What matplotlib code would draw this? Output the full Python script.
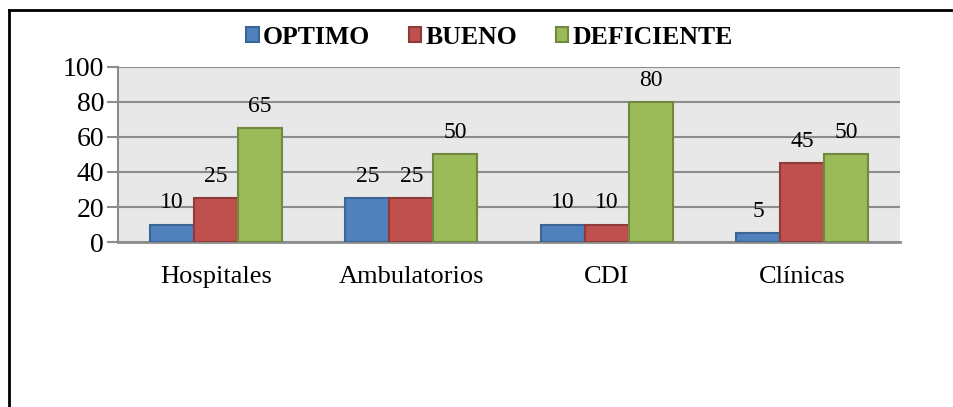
import numpy as np
import matplotlib.pyplot as plt
from matplotlib.lines import Line2D

categories = ['Hospitales', 'Ambulatorios', 'CDI', 'Clínicas']
series = ['OPTIMO', 'BUENO', 'DEFICIENTE']
optimo = [10, 25, 10, 5]
bueno = [25, 25, 10, 45]
deficiente = [65, 50, 80, 50]
yticks = [0, 20, 40, 60, 80, 100]

faces = ['#4F81BD', '#C0504D', '#9BBB59']
edges = ['#3A6696', '#8E3B39', '#71893F']
serif = 'Liberation Serif'

fig = plt.figure(figsize=(9.54, 4.07), dpi=100)
ax = fig.add_axes([0.1237, 0.4054, 0.8197, 0.43])
ax.set_facecolor('#E8E8E8')

x = np.arange(len(categories))
w = 0.225
for i, (vals, name) in enumerate(zip([optimo, bueno, deficiente], series)):
    bars = ax.bar(x + (i - 1) * w, vals, w, color=faces[i], edgecolor=edges[i],
                  linewidth=1.5, label=name, zorder=3)
    for b, v in zip(bars, vals):
        ax.annotate(str(v), (b.get_x() + b.get_width() / 2, v), xytext=(0, 8),
                    textcoords='offset points', ha='center', va='bottom',
                    fontsize=17, family=serif)

ax.set_xlim(-0.5, 3.5)
ax.set_ylim(0, 100)
ax.set_yticks(yticks)
ax.set_yticklabels([str(t) for t in yticks], fontsize=20, family=serif)
ax.set_xticks(x)
ax.set_xticklabels(categories, fontsize=19, family=serif)
ax.tick_params(axis='x', length=0, pad=17)
ax.tick_params(axis='y', length=8, width=1.5, color='#8C8C8C', pad=2)
ax.grid(axis='y', color='#8C8C8C', linewidth=1.5, zorder=0)
for s in ['top', 'right']:
    ax.spines[s].set_visible(False)
ax.spines['left'].set_color('#8C8C8C')
ax.spines['left'].set_linewidth(1.5)
ax.spines['bottom'].set_color('#8C8C8C')
ax.spines['bottom'].set_linewidth(2)

fig.legend(loc='center', bbox_to_anchor=(0.513, 0.908), ncol=3, frameon=False,
           prop={'family': serif, 'weight': 'bold', 'size': 18.5},
           handlelength=0.5, handleheight=0.5, handletextpad=0.15, columnspacing=1.5)

# outer frame (top and left edges visible)
fig.add_artist(Line2D([9.5 / 954, 1], [1 - 10 / 407, 1 - 10 / 407], color='black',
                      linewidth=2, transform=fig.transFigure))
fig.add_artist(Line2D([9.5 / 954, 9.5 / 954], [0, 1 - 10 / 407], color='black',
                      linewidth=2, transform=fig.transFigure))

fig.savefig('out.png', dpi=100)
